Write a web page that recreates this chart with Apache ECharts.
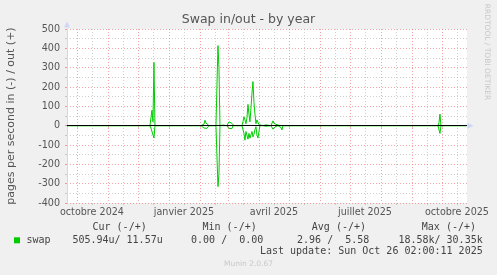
<!DOCTYPE html>
<html><head><meta charset="utf-8">
<script src="https://cdn.jsdelivr.net/npm/echarts@6/dist/echarts.min.js"></script>
<style>html,body{margin:0;padding:0;background:#f0f0f0}#c{width:497px;height:275px}</style>
</head><body><div id="c"></div>
<script>
// ---- data ----
const chartTitle = 'Swap in/out - by year';
const yAxisName = 'pages per second in (-) / out (+)';
const yMin = -400, yMax = 500, yInterval = 100;
const rangeStart = '2024-09-21T01:00:11Z';
const rangeEnd = '2025-10-26T01:00:11Z';
const monthStarts = ['2024-10-01','2024-11-01','2024-12-01','2025-01-01','2025-02-01','2025-03-01','2025-04-01','2025-05-01','2025-06-01','2025-07-01','2025-08-01','2025-09-01','2025-10-01'];
const midMonths = ['2024-09-16','2024-10-16','2024-11-16','2024-12-16','2025-01-16','2025-02-16','2025-03-16','2025-04-16','2025-05-16','2025-06-16','2025-07-16','2025-08-16','2025-09-16','2025-10-16'];
const labelDates = ['2024-10-16','2025-01-16','2025-04-16','2025-07-16','2025-10-16'];
const labelTexts = ['octobre 2024','janvier 2025','avril 2025','juillet 2025','octobre 2025'];

const dates = [
 '2024-09-21',
 '2024-12-13','2024-12-14','2024-12-15','2024-12-16','2024-12-17','2024-12-18',
 '2025-01-20','2025-01-21','2025-01-22',
 '2025-02-02','2025-02-03','2025-02-04','2025-02-05','2025-02-06','2025-02-07','2025-02-08','2025-02-09','2025-02-10',
 '2025-02-17','2025-02-18','2025-02-19','2025-02-20','2025-02-21',
 '2025-02-23','2025-02-24','2025-02-25',
 '2025-02-28','2025-03-01','2025-03-02','2025-03-03','2025-03-04','2025-03-05','2025-03-06','2025-03-07',
 '2025-03-12','2025-03-13','2025-03-14',
 '2025-03-15','2025-03-16','2025-03-17','2025-03-18','2025-03-19','2025-03-20','2025-03-21','2025-03-22','2025-03-23','2025-03-24','2025-03-25','2025-03-26','2025-03-27','2025-03-28','2025-03-29','2025-03-30','2025-03-31','2025-04-01','2025-04-02',
 '2025-04-05','2025-04-06','2025-04-07','2025-04-08','2025-04-09','2025-04-10',
 '2025-04-13','2025-04-14','2025-04-15','2025-04-16','2025-04-17','2025-04-18','2025-04-19','2025-04-20',
 '2025-04-22','2025-04-23','2025-04-24','2025-04-25',
 '2025-09-27','2025-09-28','2025-09-29','2025-09-30',
 '2025-10-26'
];
const swapOut = [
 0,
 0,0,80,20,327,0,
 0,6,0,
 0,4,10,8,28,14,22,6,0,
 0,0,414,300,0,
 0,3,0,
 0,8,20,10,18,12,3,0,
 0,3,0,
 0,20,45,30,10,40,110,60,20,90,167,228,120,60,10,30,28,5,0,
 0,5,8,4,6,0,
 0,8,25,12,20,15,5,0,
 0,3,0,0,
 0,15,60,0,
 0
];
const swapIn = [
 0,
 0,13,5,10,64,0,
 0,0,0,
 0,2,6,12,18,8,14,10,0,
 0,0,315,250,0,
 0,0,0,
 0,5,15,12,8,15,0,0,
 0,3,0,
 0,10,40,75,30,20,70,40,65,55,30,58,45,20,5,49,64,30,0,
 0,2,0,3,0,0,
 0,5,18,10,6,12,8,0,
 0,10,22,0,
 0,10,40,0,
 0
];
const seriesName = 'swap';
const statHeaders = ['Cur (-/+)','Min (-/+)','Avg (-/+)','Max (-/+)'];
const statValues = ['505.94u/ 11.57u','0.00 /  0.00','2.96 /  5.58','18.58k/ 30.35k'];
const lastUpdate = 'Last update: Sun Oct 26 02:00:11 2025';
const footer = 'Munin 2.0.67';
const sideText = 'RRDTOOL / TOBI OETIKER';

// ---- build ----
const ms = s => Date.parse(s.length === 10 ? s + 'T00:00:00Z' : s);
const labelMs = labelDates.map(ms);
const GREEN = '#00cc00';
const AXIS = '#CFD6F8';
const MGRID = 'rgba(235,90,90,0.55)';
const GRID = 'rgba(150,150,150,0.45)';
const TXT = '#555';
const mono = '"DejaVu Sans Mono", monospace';
const sans = '"DejaVu Sans", sans-serif';

const statHeaderRight = [146.7, 256.7, 366, 476];
const statValueRight = [162.7, 263.3, 369.3, 482.7];

const graphic = [
  {type:'text', left:null, x:248.5, y:19.5, style:{text:chartTitle, font:'12.5px ' + sans, fill:TXT, align:'center', verticalAlign:'middle'}},
  {type:'text', x:11.5, y:116, rotation:Math.PI/2, style:{text:yAxisName, font:'11px ' + sans, fill:TXT, align:'center', verticalAlign:'middle'}},
  {type:'text', x:487, y:52, rotation:-Math.PI/2, style:{text:sideText, font:'7.5px ' + sans, fill:'#c8c8c8', align:'center', verticalAlign:'middle'}},
  {type:'rect', shape:{x:14, y:237.3, width:6, height:6}, style:{fill:GREEN}},
  {type:'text', x:26.5, y:240, style:{text:seriesName, font:'10px ' + mono, fill:'#444', align:'left', verticalAlign:'middle'}},
  {type:'text', x:482.7, y:251.7, style:{text:lastUpdate, font:'10px ' + mono, fill:'#444', align:'right', verticalAlign:'middle'}},
  {type:'text', x:248.5, y:263.8, style:{text:footer, font:'7.5px ' + sans, fill:'#c8c8c8', align:'center', verticalAlign:'middle'}}
];
statHeaders.forEach((h, i) => graphic.push({type:'text', x:statHeaderRight[i], y:227.5, style:{text:h, font:'10px ' + mono, fill:'#444', align:'right', verticalAlign:'middle'}}));
statValues.forEach((v, i) => graphic.push({type:'text', x:statValueRight[i], y:240, style:{text:v, font:'10px ' + mono, fill:'#444', align:'right', verticalAlign:'middle'}}));

const xMin = ms(rangeStart), xMax = ms(rangeEnd);
const option = {
  animation: false,
  backgroundColor: '#f0f0f0',
  grid: {left:67, right:30, top:29, bottom:72, show:true, backgroundColor:'#ffffff', borderWidth:0, containLabel:false},
  xAxis: [
    {
      type:'value', min:xMin, max:xMax, position:'bottom',
      axisLine:{show:true, lineStyle:{color:AXIS, width:1}, symbol:['none','triangle'], symbolSize:[6,6], symbolOffset:[0,3.5]},
      axisTick:{show:true, length:2, inside:false, customValues: monthStarts.map(ms), lineStyle:{color:MGRID}},
      axisLabel:{show:true, customValues: labelMs, margin:4, color:TXT, fontFamily:'DejaVu Sans', fontSize:9.6,
        formatter: v => { const i = labelMs.findIndex(m => Math.abs(m - v) < 1000); return i >= 0 ? labelTexts[i] : ''; }},
      splitLine:{show:true, lineStyle:{color:MGRID, type:[1,2], width:1}}
    },
    {
      type:'value', min:xMin, max:xMax, position:'bottom',
      axisLine:{show:false}, axisLabel:{show:false},
      axisTick:{show:true, length:2, customValues: midMonths.map(ms).filter(v => v > xMin && v < xMax), lineStyle:{color:GRID}},
      splitLine:{show:true, lineStyle:{color:GRID, type:[1,2], width:1}}
    }
  ],
  yAxis: {
    type:'value', min:yMin, max:yMax, interval:yInterval,
    axisLine:{show:true, onZero:false, lineStyle:{color:AXIS, width:1}, symbol:['none','triangle'], symbolSize:[6,6], symbolOffset:[0,4.5]},
    axisTick:{show:true, length:2, lineStyle:{color:MGRID}},
    minorTick:{show:true, splitNumber:2, length:2, lineStyle:{color:GRID}},
    axisLabel:{margin:7, color:TXT, fontFamily:'DejaVu Sans', fontSize:9.6},
    splitLine:{show:true, lineStyle:{color:MGRID, type:[1,2], width:1}},
    minorSplitLine:{show:true, lineStyle:{color:GRID, type:[1,2], width:1}}
  },
  series: [
    {type:'line', name:seriesName, xAxisIndex:0, data: dates.map((d, i) => [ms(d), swapOut[i]]),
      symbol:'none', showSymbol:false, lineStyle:{color:GREEN, width:1}, itemStyle:{color:GREEN}, z:3},
    {type:'line', name:seriesName, xAxisIndex:0, data: dates.map((d, i) => [ms(d), -swapIn[i]]),
      symbol:'none', showSymbol:false, lineStyle:{color:GREEN, width:1}, itemStyle:{color:GREEN}, z:3,
      markLine:{silent:true, symbol:'none', label:{show:false}, lineStyle:{color:'#000', width:1, type:'solid'}, data:[{yAxis:0}], z:5}}
  ],
  graphic: graphic
};
const chart = echarts.init(document.getElementById('c'), null, {renderer:'canvas'});
chart.setOption(option);
</script></body></html>
